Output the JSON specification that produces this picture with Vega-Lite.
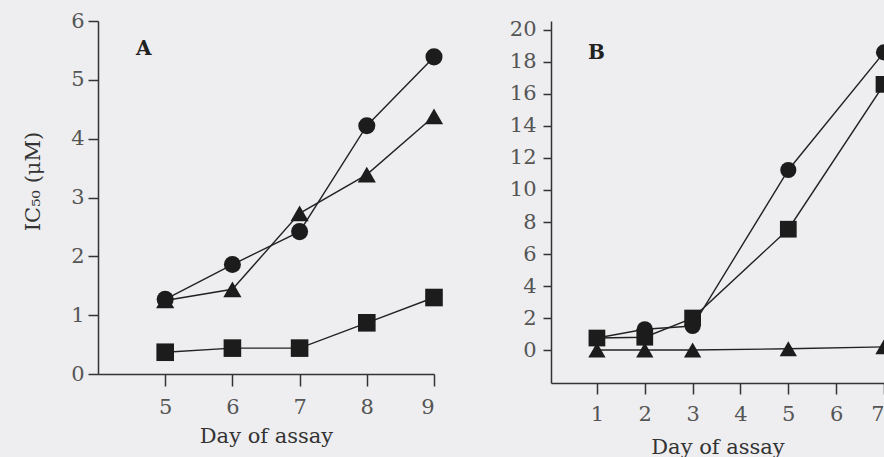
{
  "$schema": "https://vega.github.io/schema/vega-lite/v6.json",
  "background": "#eeeef0",
  "padding": {"left": 22, "top": 10, "right": 0, "bottom": 0},
  "datasets": {
    "a": [
      {"day": 5, "ic50": 1.27, "series": "circle"},
      {"day": 6, "ic50": 1.86, "series": "circle"},
      {"day": 7, "ic50": 2.42, "series": "circle"},
      {"day": 8, "ic50": 4.22, "series": "circle"},
      {"day": 9, "ic50": 5.39, "series": "circle"},
      {"day": 5, "ic50": 1.25, "series": "triangle"},
      {"day": 6, "ic50": 1.44, "series": "triangle"},
      {"day": 7, "ic50": 2.73, "series": "triangle"},
      {"day": 8, "ic50": 3.39, "series": "triangle"},
      {"day": 9, "ic50": 4.38, "series": "triangle"},
      {"day": 5, "ic50": 0.37, "series": "square"},
      {"day": 6, "ic50": 0.44, "series": "square"},
      {"day": 7, "ic50": 0.44, "series": "square"},
      {"day": 8, "ic50": 0.87, "series": "square"},
      {"day": 9, "ic50": 1.3, "series": "square"}
    ],
    "b": [
      {"day": 1, "ic50": 0.75, "series": "circle"},
      {"day": 2, "ic50": 1.3, "series": "circle"},
      {"day": 3, "ic50": 1.5, "series": "circle"},
      {"day": 5, "ic50": 11.25, "series": "circle"},
      {"day": 7, "ic50": 18.6, "series": "circle"},
      {"day": 1, "ic50": 0.75, "series": "square"},
      {"day": 2, "ic50": 0.8, "series": "square"},
      {"day": 3, "ic50": 2.0, "series": "square"},
      {"day": 5, "ic50": 7.55, "series": "square"},
      {"day": 7, "ic50": 16.6, "series": "square"},
      {"day": 1, "ic50": 0.0, "series": "triangle"},
      {"day": 2, "ic50": 0.0, "series": "triangle"},
      {"day": 3, "ic50": 0.0, "series": "triangle"},
      {"day": 5, "ic50": 0.08, "series": "triangle"},
      {"day": 7, "ic50": 0.2, "series": "triangle"}
    ]
  },
  "spacing": 117,
  "bounds": "flush",
  "hconcat": [
    {
      "width": 336,
      "height": 353,
      "layer": [
        {
          "data": {"name": "a"},
          "mark": {"type": "line", "color": "#222222", "strokeWidth": 1.4},
          "encoding": {
            "x": {"field": "day", "type": "quantitative", "scale": {"domain": [4, 9], "nice": false, "zero": false},
              "axis": {"values": [5, 6, 7, 8, 9], "tickCount": 5, "format": "d", "title": "Day of assay", "tickSize": 12, "labelPadding": 10, "titlePadding": 8, "grid": false}},
            "y": {"field": "ic50", "type": "quantitative", "scale": {"domain": [0, 6], "nice": false},
              "axis": {"values": [0, 1, 2, 3, 4, 5, 6], "tickCount": 7, "format": "d", "title": "IC₅₀ (μM)", "tickSize": 10, "labelPadding": 4, "titleX": -55, "titleY": 160, "grid": false}},
            "detail": {"field": "series"}
          }
        },
        {
          "data": {"name": "a"},
          "mark": {"type": "point", "filled": true, "color": "#1c1c1c", "opacity": 1},
          "encoding": {
            "x": {"field": "day", "type": "quantitative"},
            "y": {"field": "ic50", "type": "quantitative"},
            "shape": {"field": "series", "scale": {"domain": ["circle", "square", "triangle"], "range": ["circle", "square", "triangle-up"]}, "legend": null},
            "size": {"field": "series", "scale": {"domain": ["circle", "square", "triangle"], "range": [290, 330, 300]}, "legend": null}
          }
        },
        {
          "data": {"values": [{"label": "A"}]},
          "mark": {"type": "text", "font": "DejaVu Serif", "fontWeight": "bold", "fontSize": 20, "color": "#222222"},
          "encoding": {
            "x": {"datum": 4.68, "type": "quantitative"},
            "y": {"datum": 5.53, "type": "quantitative"},
            "text": {"field": "label"}
          }
        }
      ]
    },
    {
      "width": 333,
      "height": 362,
      "layer": [
        {
          "data": {"name": "b"},
          "mark": {"type": "line", "color": "#222222", "strokeWidth": 1.4, "clip": true},
          "encoding": {
            "x": {"field": "day", "type": "quantitative", "scale": {"domain": [0.04, 7], "nice": false, "zero": false},
              "axis": {"values": [1, 2, 3, 4, 5, 6, 7], "tickCount": 7, "format": "d", "title": "Day of assay", "tickSize": 11, "labelPadding": 9, "titlePadding": 12, "labelFlush": true, "grid": false}},
            "y": {"field": "ic50", "type": "quantitative", "scale": {"domain": [-2.06, 20.56], "nice": false, "zero": false},
              "axis": {"values": [0, 2, 4, 6, 8, 10, 12, 14, 16, 18, 20], "tickCount": 11, "format": "d", "labelOverlap": false, "title": null, "tickSize": 8, "labelPadding": 7, "grid": false}},
            "detail": {"field": "series"}
          }
        },
        {
          "data": {"name": "b"},
          "mark": {"type": "point", "filled": true, "color": "#1c1c1c", "opacity": 1, "clip": true},
          "encoding": {
            "x": {"field": "day", "type": "quantitative"},
            "y": {"field": "ic50", "type": "quantitative"},
            "shape": {"field": "series", "scale": {"domain": ["circle", "square", "triangle"], "range": ["circle", "square", "triangle-up"]}, "legend": null},
            "size": {"field": "series", "scale": {"domain": ["circle", "square", "triangle"], "range": [260, 300, 270]}, "legend": null}
          }
        },
        {
          "data": {"values": [{"label": "B"}]},
          "mark": {"type": "text", "font": "DejaVu Serif", "fontWeight": "bold", "fontSize": 20, "color": "#222222"},
          "encoding": {
            "x": {"datum": 0.99, "type": "quantitative"},
            "y": {"datum": 18.56, "type": "quantitative"},
            "text": {"field": "label"}
          }
        }
      ]
    }
  ],
  "resolve": {"scale": {"shape": "independent", "size": "independent"}},
  "config": {
    "view": {"stroke": null},
    "axis": {
      "domainColor": "#333333",
      "domainWidth": 1.5,
      "tickColor": "#333333",
      "tickWidth": 1.5,
      "labelFont": "DejaVu Serif",
      "labelFontSize": 21,
      "labelColor": "#555555",
      "titleFont": "DejaVu Serif",
      "titleFontSize": 21,
      "titleFontWeight": "normal",
      "titleColor": "#333333"
    }
  }
}
